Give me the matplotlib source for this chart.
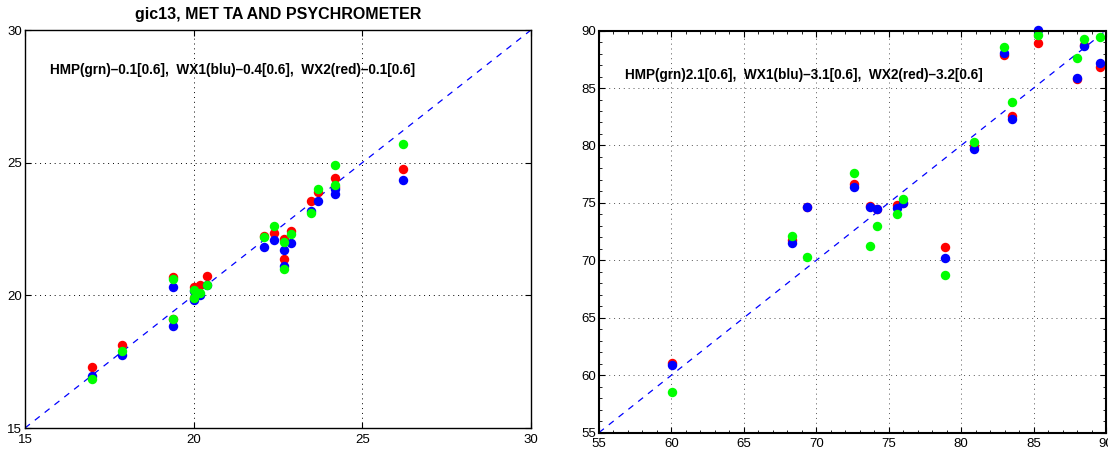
import numpy as np
import matplotlib.pyplot as plt
from matplotlib.ticker import MultipleLocator

plt.rcParams['font.family'] = ['Liberation Sans', 'DejaVu Sans']

# left panel: MET TA (x) vs sensors
ta_x = [16.99, 17.89, 19.40, 19.40, 20.00, 20.00, 20.19, 20.39, 22.08, 22.39,
        22.69, 22.69, 22.90, 23.49, 23.70, 24.19, 24.19, 26.20]
ta_hmp = [16.85, 17.92, 20.60, 19.09, 20.21, 19.90, 20.08, 20.40, 22.20, 22.62,
          22.01, 21.00, 22.31, 23.10, 24.01, 24.90, 24.15, 25.70]
ta_wx1 = [16.95, 17.75, 20.31, 18.83, 20.18, 19.84, 20.02, 20.40, 21.83, 22.07,
          21.69, 21.10, 21.99, 23.18, 23.56, 23.99, 23.81, 24.36]
ta_wx2 = [17.29, 18.11, 20.69, 19.10, 20.31, 19.90, 20.40, 20.72, 22.22, 22.36,
          22.14, 21.38, 22.42, 23.54, 23.90, 24.41, 24.10, 24.75]
ta_text = "HMP(grn)\u20130.1[0.6],  WX1(blu)\u20130.4[0.6],  WX2(red)\u20130.1[0.6]"

# right panel: psychrometer RH (x) vs sensors
rh_x = [60.01, 68.30, 69.33, 72.60, 73.72, 74.19, 75.54, 75.98, 78.86, 80.86,
        82.93, 83.52, 85.34, 87.99, 88.50, 89.58]
rh_hmp = [58.56, 72.09, 70.27, 77.60, 71.27, 72.98, 74.00, 75.31, 68.70, 80.32,
          88.56, 83.75, 89.60, 87.60, 89.29, 89.47]
rh_wx1 = [60.86, 71.53, 74.65, 76.38, 74.66, 74.43, 74.58, 74.99, 70.17, 79.68,
          88.07, 82.30, 90.04, 85.84, 88.65, 87.20]
rh_wx2 = [61.08, 71.80, 74.68, 76.67, 74.70, 74.49, 74.84, 75.00, 71.18, 79.94,
          87.90, 82.53, 88.94, 85.75, 88.74, 86.82]
rh_text = "HMP(grn)2.1[0.6],  WX1(blu)\u20133.1[0.6],  WX2(red)\u20133.2[0.6]"

fig = plt.figure(figsize=(11.08, 4.49), dpi=100)
ax1 = fig.add_axes([25/1108, 21/449, 506/1108, 398/449])
ax2 = fig.add_axes([599/1108, 16.4/449, 507/1108, 402/449])


def panel(ax, x, g, b, r, lims, text, txy, spine_lw, grid_col):
    lo, hi = lims
    ax.plot([lo, hi], [lo, hi], color='blue', lw=0.9, dashes=(5, 5))
    ms = 6.8
    ax.plot(x, r, 'o', color='red', ms=ms, mec='none', clip_on=False)
    ax.plot(x, b, 'o', color='blue', ms=ms, mec='none', clip_on=False)
    ax.plot(x, g, 'o', color='#00ff00', ms=ms, mec='none', clip_on=False)
    ax.set_xlim(lo, hi)
    ax.set_ylim(lo, hi)
    ax.xaxis.set_major_locator(MultipleLocator(5))
    ax.yaxis.set_major_locator(MultipleLocator(5))
    ax.grid(True, color=grid_col, lw=0.7, linestyle=(0, (1, 4)))
    ax.tick_params(direction='in', top=True, right=True, labelsize=9.5,
                   length=4, pad=2)
    ax.tick_params(axis='x', pad=4)
    for s in ax.spines.values():
        s.set_linewidth(spine_lw)
    ax.text(txy[0], txy[1], text, fontsize=9.8, fontweight='bold',
            va='center', ha='left')


panel(ax1, ta_x, ta_hmp, ta_wx1, ta_wx2, (15, 30), ta_text, (15.74, 28.5),
      1.0, 'black')
panel(ax2, rh_x, rh_hmp, rh_wx1, rh_wx2, (55, 90), rh_text, (56.8, 86.13),
      1.5, '#555555')
ax2.xaxis.set_minor_locator(MultipleLocator(1))
ax2.yaxis.set_minor_locator(MultipleLocator(1))
ax2.tick_params(which='minor', direction='in', top=True, right=True, length=2)

ax1.set_title("gic13, MET TA AND PSYCHROMETER", fontsize=11.5,
              fontweight='bold', pad=8)

fig.savefig("out.png", dpi=100)
